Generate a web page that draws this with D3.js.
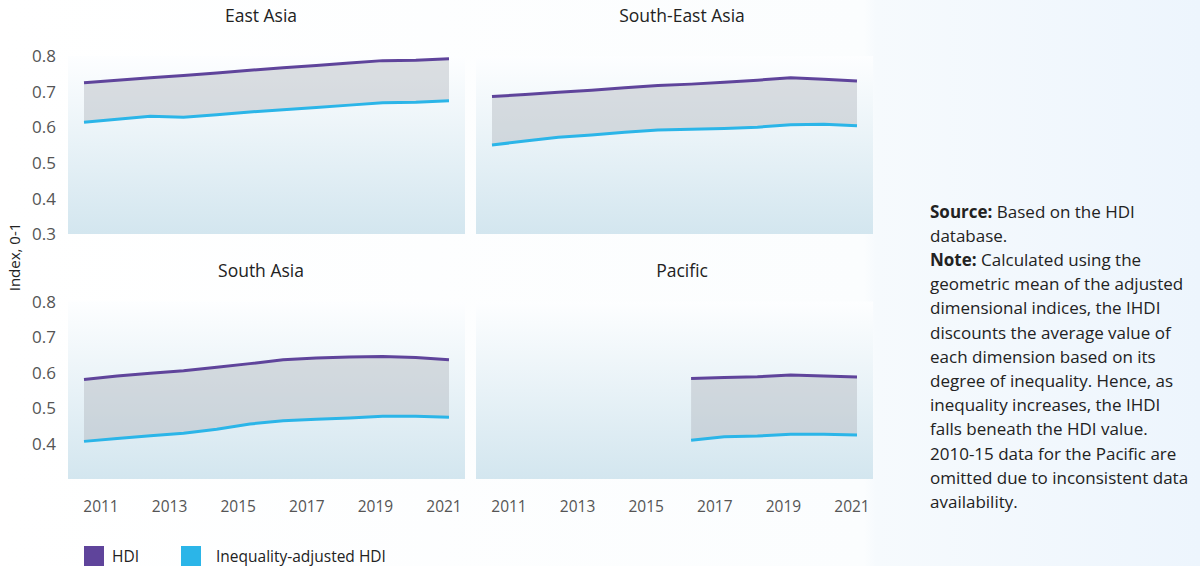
<!DOCTYPE html>
<html><head><meta charset="utf-8">
<script src="https://cdn.jsdelivr.net/npm/d3@7"></script>
<style>html,body{margin:0;padding:0;}svg{display:block;font-family:"Open Sans",Lato,sans-serif;}</style>
</head><body><svg id="c" width="1200" height="566"></svg>
<script>
const years = [2010,2011,2012,2013,2014,2015,2016,2017,2018,2019,2020,2021];
const pacificYears = [2016,2017,2018,2019,2020,2021];
const eastAsiaHDI  = [0.725,0.732,0.739,0.745,0.752,0.760,0.767,0.773,0.780,0.787,0.788,0.792];
const eastAsiaIHDI = [0.614,0.622,0.631,0.628,0.635,0.643,0.649,0.655,0.662,0.669,0.670,0.674];
const seAsiaHDI    = [0.686,0.692,0.698,0.704,0.711,0.717,0.721,0.726,0.732,0.739,0.735,0.730];
const seAsiaIHDI   = [0.550,0.561,0.572,0.578,0.586,0.592,0.594,0.596,0.600,0.607,0.608,0.604];
const sAsiaHDI     = [0.580,0.590,0.598,0.605,0.615,0.625,0.636,0.641,0.644,0.645,0.642,0.636];
const sAsiaIHDI    = [0.406,0.414,0.422,0.429,0.440,0.455,0.464,0.468,0.472,0.477,0.477,0.474];
const pacificHDI   = [0.583,0.586,0.588,0.593,0.590,0.587];
const pacificIHDI  = [0.409,0.419,0.421,0.426,0.426,0.424];
const panelTitles = ["East Asia","South-East Asia","South Asia","Pacific"];
const yTicks = [0.3,0.4,0.5,0.6,0.7,0.8];
const xTickLabels = [2011,2013,2015,2017,2019,2021];
const legendLabels = ["HDI","Inequality-adjusted HDI"];
const noteLines = [
 ["Source:"," Based on the HDI"],["","database."],["Note:"," Calculated using the"],
 ["","geometric mean of the adjusted"],["","dimensional indices, the IHDI"],
 ["","discounts the average value of"],["","each dimension based on its"],
 ["","degree of inequality. Hence, as"],["","inequality increases, the IHDI"],
 ["","falls beneath the HDI value."],["","2010-15 data for the Pacific are"],
 ["","omitted due to inconsistent data"],["","availability."]];

const HDI_C = "#5f449b", IHDI_C = "#2bb5e8";
const svg = d3.select("#c");
const defs = svg.append("defs");
const pg = defs.append("linearGradient").attr("id","pageg").attr("x1",0).attr("x2",1).attr("y1",0).attr("y2",0);
pg.append("stop").attr("offset","0").attr("stop-color","#ffffff");
pg.append("stop").attr("offset","0.72").attr("stop-color","#fbfdfe");
pg.append("stop").attr("offset","0.73").attr("stop-color","#f6fafd");
pg.append("stop").attr("offset","1").attr("stop-color","#edf5fd");
svg.append("rect").attr("width",1200).attr("height",566).attr("fill","url(#pageg)");
const gg = defs.append("linearGradient").attr("id","panelg").attr("x1",0).attr("x2",0).attr("y1",0).attr("y2",1);
gg.append("stop").attr("offset","0").attr("stop-color","#fdfeff");
gg.append("stop").attr("offset","1").attr("stop-color","#d3e6ef");

const panels = [
  {title:panelTitles[0], x0:68,  top:56,    bottom:234, yrs:years, hdi:eastAsiaHDI, ihdi:eastAsiaIHDI, tx:261, ty:22, showY:true, yFrom:0.3, showX:false},
  {title:panelTitles[1], x0:476, top:56,    bottom:234, yrs:years, hdi:seAsiaHDI, ihdi:seAsiaIHDI, tx:682, ty:22, showY:false, showX:false},
  {title:panelTitles[2], x0:68,  top:301.5, bottom:479, yrs:years, hdi:sAsiaHDI, ihdi:sAsiaIHDI, tx:261, ty:277, showY:true, yFrom:0.4, showX:true},
  {title:panelTitles[3], x0:476, top:301.5, bottom:479, yrs:pacificYears, hdi:pacificHDI, ihdi:pacificIHDI, tx:682, ty:277, showY:false, showX:true}
];
const W = 397;
panels.forEach(p=>{
  const g = svg.append("g");
  const x = d3.scaleLinear().domain([2010,2021]).range([p.x0+16, p.x0+381]);
  const xl = d3.scaleLinear().domain([2011,2021]).range([p.x0+33, p.x0+376]);
  const y = d3.scaleLinear().domain([0.3,0.8]).range([p.bottom, p.top]);
  g.append("rect").attr("x",p.x0).attr("y",p.top).attr("width",W).attr("height",p.bottom-p.top).attr("fill","url(#panelg)");
  const rows = p.yrs.map((yr,i)=>({yr, h:p.hdi[i], l:p.ihdi[i]}));
  g.append("path").datum(rows).attr("fill","rgba(175,178,186,0.42)")
    .attr("d", d3.area().x(d=>x(d.yr)).y0(d=>y(d.l)).y1(d=>y(d.h)));
  g.append("path").datum(rows).attr("fill","none").attr("stroke",HDI_C).attr("stroke-width",3)
    .attr("d", d3.line().x(d=>x(d.yr)).y(d=>y(d.h)));
  g.append("path").datum(rows).attr("fill","none").attr("stroke",IHDI_C).attr("stroke-width",3)
    .attr("d", d3.line().x(d=>x(d.yr)).y(d=>y(d.l)));
  g.append("text").attr("x",p.tx).attr("y",p.ty).attr("text-anchor","middle")
    .attr("font-size",17.5).attr("fill","#222").text(p.title);
  if(p.showY){
    g.selectAll(".yt").data(yTicks.filter(v=>v>=p.yFrom-1e-9)).join("text")
      .attr("x",56).attr("y",d=>y(d)).attr("dy","0.36em").attr("text-anchor","end")
      .attr("font-size",17).attr("fill","#555").text(d=>d3.format(".1f")(d));
  }
  if(p.showX){
    g.selectAll(".xt").data(xTickLabels).join("text")
      .attr("x",d=>xl(d)).attr("y",512).attr("text-anchor","middle")
      .attr("font-size",15.5).attr("fill","#555").text(d=>d);
  }
});
svg.append("text").attr("transform","translate(20,257) rotate(-90)").attr("text-anchor","middle")
  .attr("font-size",15).attr("fill","#222").text("Index, 0-1");

// legend
const lg = svg.append("g");
const legX = [84,181], legTX=[112,216], legC=[HDI_C,IHDI_C];
legendLabels.forEach((t,i)=>{
  lg.append("rect").attr("x",legX[i]).attr("y",546).attr("width",20).attr("height",20).attr("fill",legC[i]);
  lg.append("text").attr("x",legTX[i]).attr("y",562).attr("font-size",15.5).attr("fill","#222").text(t);
});

// note
const nt = svg.append("g");
noteLines.forEach((ln,i)=>{
  const t = nt.append("text").attr("x",930).attr("y",217.5+i*24.2).attr("font-size",17).attr("fill","#222");
  if(ln[0]) t.append("tspan").attr("font-weight",700).text(ln[0]);
  t.append("tspan").text(ln[1]);
});
</script></body></html>
